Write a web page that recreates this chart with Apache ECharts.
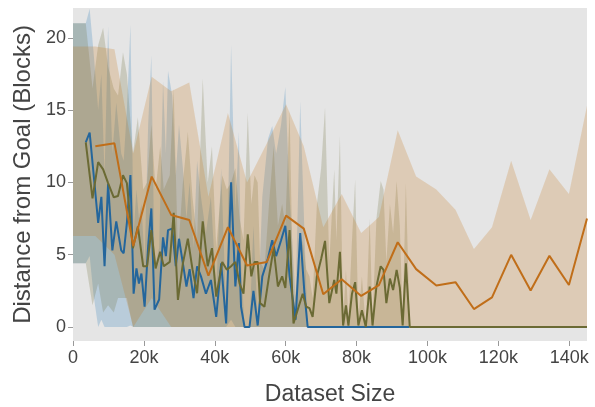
<!DOCTYPE html>
<html>
<head>
<meta charset="utf-8">
<script src="https://cdn.jsdelivr.net/npm/echarts@6/dist/echarts.min.js"></script>
<style>
  html, body { margin: 0; padding: 0; background: #ffffff; }
  #chart { width: 595px; height: 407px; }
</style>
</head>
<body>
<div id="chart"></div>
<script>
// ---------- DATA (x in thousands of samples) ----------
const xTickValues = [0, 20, 40, 60, 80, 100, 120, 140];
const yTickValues = [0, 5, 10, 15, 20];
const bandStartX = 0;

const blueX = [3.6, 4.7, 5.8, 7.1, 8.0, 8.9, 9.9, 11.1, 12.2, 13.6, 14.3, 15.2, 16.2, 17.1, 17.9, 18.6, 19.3, 20.2, 21.2, 22.1,
  23.0, 24.3, 25.4, 26.2, 26.8, 28.0, 29.0, 29.9, 31.0, 32.0, 32.9, 34.0, 35.0, 36.1, 37.5, 38.9, 40.4, 41.8, 43.2, 44.6,
  45.8, 46.8, 47.4, 48.4, 49.8, 50.9, 52.1, 53.4, 55.0, 56.2, 57.3, 58.7, 59.9, 61.1, 62.8, 64.1, 65.3, 66.2, 94.9];
const blueMean = [12.76, 13.45, 10.6, 7.2, 9.0, 4.2, 9.9, 5.3, 7.3, 5.3, 5.1, 7.2, 10.5, 2.3, 4.05, 3.0, 3.7, 1.4, 5.6, 8.2,
  1.2, 1.9, 6.2, 4.9, 6.7, 6.8, 4.2, 6.1, 4.4, 2.8, 4.0, 2.0, 4.2, 3.5, 2.3, 3.25, 0.7, 4.4, 0.25, 10.0,
  2.8, 5.8, 1.4, 0, 0, 2.5, 0.1, 3.5, 4.75, 6.0, 4.9, 6.0, 7.0, 3.5, 0.5, 6.5, 2.3, 0, 0];
const blueUpper = [21.0, 22.0, 19.0, 15.0, 17.5, 10.5, 20.8, 12.0, 15.5, 12.0, 11.5, 15.0, 20.9, 6.5, 9.5, 7.5, 8.5, 4.5, 14.0, 18.8,
  4.0, 5.5, 17.0, 12.0, 17.7, 16.0, 10.5, 14.0, 11.0, 7.5, 10.0, 5.5, 11.5, 9.0, 6.5, 9.0, 2.5, 11.0, 1.0, 19.5,
  8.0, 13.5, 4.5, 0, 0, 7.0, 0.5, 9.0, 13.0, 13.9, 12.0, 14.0, 16.6, 9.0, 2.0, 15.6, 6.5, 0, 0];
const blueLower = [4.4, 4.9, 2.2, 0, 0.5, 0, 0, 0, 0, 0, 0, 0, 0.1, 0, 0, 0, 0, 0, 0, 0,
  0, 0, 0, 0, 0, 0, 0, 0, 0, 0, 0, 0, 0, 0, 0, 0, 0, 0, 0, 0.5,
  0, 0, 0, 0, 0, 0, 0, 0, 0, 0, 0, 0, 0, 0, 0, 0, 0, 0, 0];

const oliveX = [3.6, 5.5, 7.1, 8.5, 9.9, 11.5, 12.7, 14.1, 15.2, 16.9, 18.3, 19.8, 20.9, 22.1, 23.3, 24.6, 25.6, 27.3, 28.4, 29.6,
  31.0, 32.4, 33.7, 35.0, 36.6, 38.0, 39.2, 40.4, 42.1, 43.4, 44.6, 45.8, 47.0, 48.1, 49.3, 50.3, 51.2, 52.1, 52.8, 54.0,
  55.3, 56.6, 57.8, 59.0, 59.9, 61.1, 62.2, 63.4, 64.8, 65.8, 66.7, 67.6, 68.8, 70.0, 71.1, 72.3, 73.7, 74.3, 75.3, 76.2,
  77.0, 77.7, 78.7, 79.6, 80.5, 81.5, 82.6, 83.7, 84.5, 85.6, 86.8, 87.6, 88.4, 89.4, 90.3, 91.3, 92.2, 93.0, 93.9, 95.0, 145.0];
const oliveMean = [12.76, 8.9, 11.4, 10.9, 9.95, 8.97, 9.06, 10.5, 9.95, 5.45, 6.95, 4.2, 4.2, 6.7, 4.05, 5.2, 4.2, 4.5, 7.9, 1.87,
  4.4, 6.1, 4.0, 2.33, 7.3, 4.2, 5.45, 2.1, 4.5, 3.95, 4.2, 4.5, 3.0, 2.3, 6.4, 3.5, 4.5, 4.5, 1.65, 1.4,
  3.5, 5.45, 2.8, 3.5, 2.7, 6.7, 0.25, 1.2, 2.3, 1.4, 1.3, 0.7, 3.5, 4.7, 5.95, 1.65, 3.25, 2.3, 5.2, 0.1,
  1.5, 0.1, 2.3, 3.1, 0.1, 1.15, 0, 2.8, 0.1, 2.8, 4.2, 3.95, 1.65, 3.35, 2.55, 3.95, 2.7, 0.1, 4.4, 0, 0];
const oliveUpper = [21.0, 16.5, 19.5, 20.7, 18.0, 16.5, 16.0, 19.0, 17.5, 12.0, 14.5, 9.5, 10.0, 14.0, 9.5, 12.5, 9.5, 10.5, 16.5, 5.0,
  10.0, 13.5, 9.0, 6.0, 17.2, 10.0, 12.5, 5.5, 10.5, 9.5, 10.0, 11.0, 7.5, 6.0, 14.8, 8.5, 10.5, 10.0, 4.5, 4.0,
  8.5, 12.5, 7.0, 8.5, 7.0, 15.0, 1.0, 3.5, 6.0, 4.0, 3.5, 2.0, 8.5, 11.0, 15.2, 4.5, 10.9, 6.0, 13.2, 0.5,
  4.0, 0.5, 6.0, 10.2, 0.5, 3.5, 0, 7.5, 0.5, 7.5, 10.1, 9.5, 4.5, 8.5, 6.5, 10.1, 7.0, 0.5, 10.0, 0, 0];
const oliveLower = [4.4, 1.5, 3.0, 1.0, 1.5, 1.0, 2.0, 2.0, 2.0, 0, 0, 0, 0, 0, 0, 0, 0, 0, 0, 0,
  0, 0, 0, 0, 0, 0, 0, 0, 0, 0, 0, 0, 0, 0, 0, 0, 0, 0, 0, 0,
  0, 0, 0, 0, 0, 0, 0, 0, 0, 0, 0, 0, 0, 0, 0, 0, 0, 0, 0, 0,
  0, 0, 0, 0, 0, 0, 0, 0, 0, 0, 0, 0, 0, 0, 0, 0, 0, 0, 0, 0, 0];

const orangeX = [6.3, 11.7, 17.0, 22.2, 27.7, 32.8, 38.2, 43.7, 49.1, 54.7, 60.1, 65.1, 70.6, 75.8, 81.3, 86.3, 91.6, 96.8,
  102.5, 107.9, 113.1, 118.2, 123.6, 129.1, 134.4, 139.9, 145.0];
const orangeMean = [12.5, 12.7, 5.6, 10.4, 7.75, 7.4, 3.55, 6.9, 4.25, 4.5, 7.7, 6.8, 2.26, 3.3, 2.15, 2.9, 5.86, 4.0,
  2.87, 3.1, 1.24, 2.05, 4.99, 2.52, 4.92, 2.9, 7.5];
const orangeUpper = [19.4, 19.2, 12.0, 17.3, 16.3, 16.9, 9.0, 14.8, 10.0, 12.7, 15.4, 12.5, 6.9, 9.2, 6.5, 7.6, 13.6, 10.4,
  9.5, 8.1, 5.4, 6.9, 11.5, 7.4, 10.9, 9.2, 15.3];
const orangeLower = [6.3, 5.0, 0, 2.0, 0, 0, 0, 0, 0, 0, 0, 0, 0, 0, 0, 0, 0, 0,
  0, 0, 0, 0, 0, 0, 0, 0, 0];

// ---------- CHART ----------
const FONT = '"Liberation Sans", Arial, sans-serif';
const colors = {
  blue: '#24669c', blueBand: 'rgba(31,119,180,0.22)',
  olive: '#6b6a34', oliveBand: 'rgba(107,107,48,0.22)',
  orange: '#c06e19', orangeBand: 'rgba(196,112,20,0.22)'
};

function bandSeries(name, xs, lo, hi, color, z) {
  const rows = xs.map((x, i) => [x, lo[i], hi[i]]);
  return {
    type: 'custom', name: name, data: rows, clip: true, z: z, silent: true,
    encode: { x: 0, y: [1, 2] },
    renderItem: function (params, api) {
      if (params.dataIndex !== 0) return;
      const n = params.dataInsideLength;
      const top = [api.coord([bandStartX, api.value(2, 0)])];
      const bot = [api.coord([bandStartX, api.value(1, 0)])];
      for (let i = 0; i < n; i++) {
        top.push(api.coord([api.value(0, i), api.value(2, i)]));
        bot.push(api.coord([api.value(0, i), api.value(1, i)]));
      }
      return {
        type: 'polygon',
        shape: { points: top.concat(bot.reverse()) },
        style: { fill: color }
      };
    }
  };
}
function lineSeries(name, xs, ys, color, z) {
  return {
    type: 'line', name: name, data: xs.map((x, i) => [x, ys[i]]),
    showSymbol: false, z: z, silent: true, animation: false,
    lineStyle: { color: color, width: 2 }, itemStyle: { color: color }
  };
}

const chart = echarts.init(document.getElementById('chart'), null, { renderer: 'canvas' });
chart.setOption({
  animation: false,
  backgroundColor: '#ffffff',
  textStyle: { fontFamily: FONT },
  grid: { left: 73, right: 8, top: 8, bottom: 66, show: true, backgroundColor: '#e5e5e5', borderWidth: 0,
    containLabel: false, outerBoundsMode: 'none' },
  xAxis: {
    type: 'value', min: 0, max: 145,
    name: 'Dataset Size', nameLocation: 'middle', nameGap: 42,
    nameTextStyle: { fontSize: 23, color: '#444', fontFamily: FONT },
    axisLine: { show: false, onZero: false },
    axisTick: { show: true, length: 5, lineStyle: { color: '#999' }, customValues: xTickValues },
    axisLabel: { customValues: xTickValues, fontSize: 18, color: '#444', margin: 8, fontFamily: FONT,
      formatter: v => (v === 0 ? '0' : v + 'k') },
    splitLine: { show: false }
  },
  yAxis: {
    type: 'value', min: -0.97, max: 22.06,
    name: 'Distance from Goal (Blocks)', nameLocation: 'middle', nameGap: 37, nameRotate: 90,
    nameTextStyle: { fontSize: 24, color: '#444', fontFamily: FONT },
    axisLine: { show: false, onZero: false },
    axisTick: { show: true, length: 5, lineStyle: { color: '#999' }, customValues: yTickValues },
    axisLabel: { customValues: yTickValues, fontSize: 18, color: '#444', margin: 7, fontFamily: FONT },
    splitLine: { show: false }
  },
  series: [
    bandSeries('blueBand', blueX, blueLower, blueUpper, colors.blueBand, 1),
    bandSeries('oliveBand', oliveX, oliveLower, oliveUpper, colors.oliveBand, 1),
    bandSeries('orangeBand', orangeX, orangeLower, orangeUpper, colors.orangeBand, 1),
    lineSeries('blue', blueX, blueMean, colors.blue, 3),
    lineSeries('olive', oliveX, oliveMean, colors.olive, 3),
    lineSeries('orange', orangeX, orangeMean, colors.orange, 3)
  ]
});
</script>
</body>
</html>
